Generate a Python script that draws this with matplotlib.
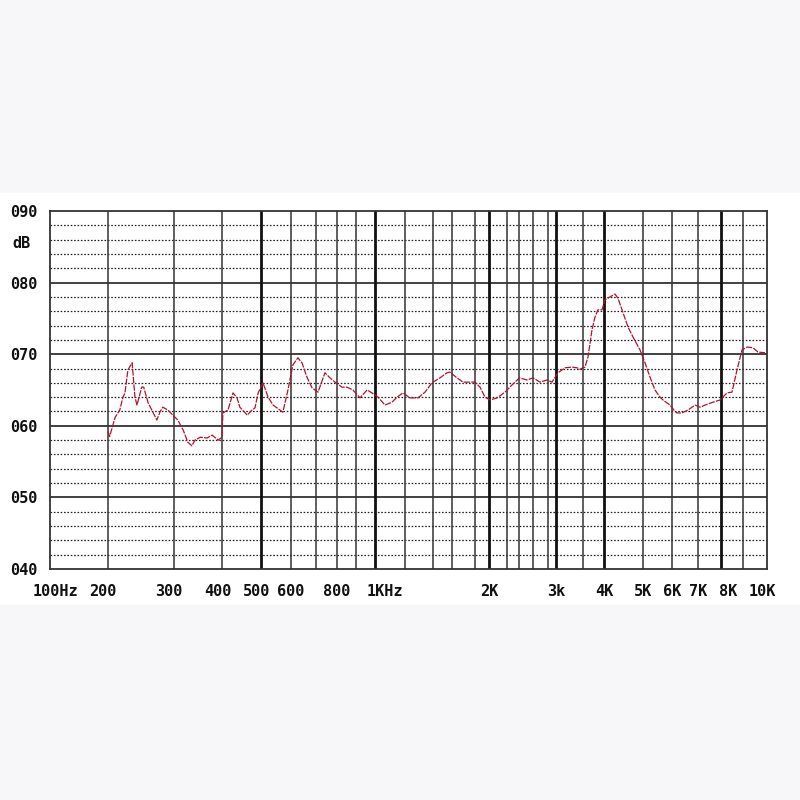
import numpy as np
import matplotlib
matplotlib.use("Agg")
import matplotlib.pyplot as plt
from matplotlib.patches import Rectangle
from matplotlib.transforms import ScaledTranslation

freq = [200, 202, 209, 215, 219, 222, 226, 232, 236, 239, 246, 249, 256, 264, 270,
        275, 280, 289, 298, 307, 317, 326, 334, 340, 351, 366, 377, 391, 400, 402,
        414, 426, 436, 443, 462, 475, 483, 492, 506, 522, 538, 551, 571, 589, 607,
        626, 642, 662, 683, 709, 741, 765, 790, 825, 851, 883, 920, 957, 983, 1018,
        1063, 1109, 1143, 1186, 1233, 1289, 1340, 1392, 1471, 1545, 1577, 1641, 1693,
        1755, 1800, 1869, 1941, 2011, 2087, 2177, 2281, 2406, 2512, 2600, 2692, 2786,
        2898, 3034, 3158, 3287, 3383, 3441, 3500, 3545, 3613, 3706, 3777, 3850, 3948,
        4023, 4140, 4260, 4334, 4459, 4589, 4722, 4915, 5063, 5225, 5392, 5564, 5670,
        5925, 6108, 6181, 6366, 6597, 6877, 7082, 7375, 7636, 7953, 8261, 8485, 8716,
        8952, 9160, 9404, 9613, 9914]
level = [59.2, 58.5, 61.2, 62.2, 63.9, 64.6, 67.8, 68.8, 64.0, 62.9, 65.4, 65.4, 63.2,
         61.8, 60.8, 61.9, 62.6, 62.2, 61.5, 60.8, 59.4, 57.7, 57.2, 58.0, 58.4, 58.3,
         58.7, 58.0, 58.4, 61.8, 62.2, 64.6, 63.9, 62.6, 61.5, 62.2, 62.5, 64.6, 66.0,
         64.0, 62.9, 62.5, 61.9, 65.0, 68.5, 69.5, 68.8, 66.8, 65.3, 64.7, 67.4, 66.7,
         66.1, 65.4, 65.4, 65.0, 63.9, 65.0, 64.6, 64.0, 62.9, 63.3, 64.0, 64.6, 63.9,
         63.9, 64.7, 66.0, 66.7, 67.4, 67.5, 66.7, 66.1, 66.1, 66.1, 65.4, 64.0, 63.6,
         63.9, 64.7, 65.7, 66.7, 66.4, 66.7, 66.1, 66.4, 66.1, 67.4, 68.1, 68.2, 68.1,
         67.9, 68.1, 68.2, 69.6, 73.4, 75.2, 76.2, 76.2, 77.6, 78.0, 78.4, 77.8, 75.8,
         73.8, 72.4, 70.6, 68.8, 66.8, 65.0, 64.0, 63.6, 62.9, 62.0, 61.8, 61.8, 62.2,
         62.9, 62.6, 63.0, 63.3, 63.6, 64.6, 64.7, 67.8, 70.6, 71.0, 70.9, 70.3, 70.2]

# printed grid of the chart paper
thin_lines = [200, 300, 400, 600, 700, 800, 900, 1200, 1400, 1600, 1800, 2200, 2400,
              2600, 2800, 3500, 5000, 6000, 7000, 9000]
thick_lines = [500, 1000, 2000, 3000, 4000, 8000]
tick_freqs = [100, 200, 300, 400, 500, 600, 800, 1000, 2000, 3000, 4000, 5000,
              6000, 7000, 8000, 10000]
tick_labels = ["100Hz", "200", "300", "400", "500", "600", "800", "1KHz", "2K", "3k",
               "4K", "5K", "6K", "7K", "8K", "10K"]
db_ticks = [40, 50, 60, 70, 80, 90]
db_labels = ["040", "050", "060", "070", "080", "090"]

# the paper is not a clean log axis, so map between the printed lines
scale_hz = [100, 200, 300, 400, 500, 600, 700, 800, 900, 1000, 1200, 1400, 1600, 1800,
            2000, 2200, 2400, 2600, 2800, 3000, 3500, 4000, 5000, 6000, 7000, 8000,
            9000, 10000]
scale_pos = [0, 58, 124, 172, 211, 241, 266, 287, 306, 325, 355, 383, 402, 425, 439,
             457, 469, 483, 498, 506, 533, 554, 593, 622, 648, 671, 693, 717]
log_hz = np.log10(scale_hz)


def fwd(f):
    f = np.clip(np.asarray(f, dtype=float), 1e-3, None)
    return np.interp(np.log10(f), log_hz, scale_pos)


def inv(u):
    return 10 ** np.interp(np.asarray(u, dtype=float), scale_pos, log_hz)


fig = plt.figure(figsize=(8, 8), dpi=100, facecolor="#f7f7f9")
fig.patches.append(Rectangle((0, 0.24375), 1, 0.515, transform=fig.transFigure,
                             facecolor="white", edgecolor="none", zorder=-10))
ax = fig.add_axes([0.0625, 0.28875, 0.89625, 0.4475])
ax.set_zorder(5)
ax.set_xscale("function", functions=(fwd, inv))
ax.set_xlim(100, 10000)
ax.set_ylim(40, 90)

for y in range(42, 90, 2):
    if y % 10:
        ax.axhline(y, color="#222222", lw=0.9, ls=(0, (1.3, 1.4)), zorder=1)
for y in db_ticks[1:-1]:
    ax.axhline(y, color="#333333", lw=1.3, zorder=2)
for x in thin_lines:
    ax.axvline(x, color="#333333", lw=1.1, zorder=2)
for x in thick_lines:
    ax.axvline(x, color="#111111", lw=2.0, zorder=2)

ax.plot(freq, level, color="#b3122e", lw=0.9, ls=(0, (5, 1)), zorder=3)

for s in ax.spines.values():
    s.set_color("#333333")
    s.set_linewidth(1.3)

lbl_font = dict(family="DejaVu Sans Mono", weight="bold", size=11)
ax.set_xticks(tick_freqs)
ax.set_xticklabels(tick_labels, **lbl_font)
ax.set_yticks(db_ticks)
ax.set_yticklabels(db_labels, **lbl_font)
ax.minorticks_off()
ax.tick_params(length=0, pad=9, colors="#111111")
ax.tick_params(axis="x", pad=11)

# a few labels on the paper sit off their lines
nudge = {"100Hz": 5, "200": -5, "300": -5, "400": -4, "500": -4, "1KHz": 10, "8K": 7,
         "10K": -5}
for t in ax.get_xticklabels():
    dx = nudge.get(t.get_text(), 0)
    if dx:
        t.set_transform(t.get_transform() + ScaledTranslation(dx / 100, 0, fig.dpi_scale_trans))

fig.text(12 / 800, 1 - 243 / 800, "dB", ha="left", va="center", color="#111111", **lbl_font)

fig.savefig("out.png", dpi=100, facecolor=fig.get_facecolor())
